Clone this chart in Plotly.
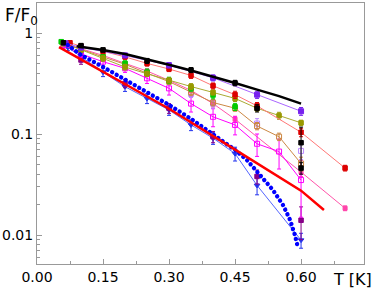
import plotly.graph_objects as go

# ---------------- data ----------------
T_blk = [0.06, 0.1, 0.15, 0.25, 0.35, 0.45]
F_blk = [0.80, 0.75, 0.68, 0.53, 0.43, 0.32]
E_blk = [0.03, 0.03, 0.03, 0.03, 0.025, 0.02]

T_blk2 = [0.5, 0.6, 0.6]
F_blk2 = [0.18, 0.082, 0.046]
E_blk2 = [0.015, 0.035, 0.006]

T_fitk = [0.09, 0.1, 0.15, 0.2, 0.25, 0.3, 0.35, 0.4, 0.45, 0.5, 0.55, 0.6]
F_fitk = [0.74, 0.73, 0.68, 0.62, 0.55, 0.485, 0.425, 0.37, 0.32, 0.275, 0.237, 0.20]

T_vio = [0.065, 0.1, 0.2, 0.3, 0.4, 0.5, 0.6]
F_vio = [0.79, 0.72, 0.60, 0.48, 0.36, 0.245, 0.168]
E_vio = [0.04, 0.04, 0.03, 0.03, 0.025, 0.02, 0.015]

T_red = [0.075, 0.1, 0.15, 0.2, 0.25, 0.3, 0.35, 0.4, 0.45, 0.5, 0.6, 0.7]
F_red = [0.80, 0.74, 0.66, 0.58, 0.50, 0.44, 0.38, 0.30, 0.245, 0.19, 0.104, 0.046]
E_red = [0.04, 0.04, 0.035, 0.03, 0.03, 0.025, 0.025, 0.02, 0.02, 0.015, 0.01, 0.003]

T_olv = [0.06, 0.1, 0.15, 0.2, 0.25, 0.3, 0.35, 0.4, 0.45, 0.5, 0.55, 0.6]
F_olv = [0.80, 0.68, 0.56, 0.46, 0.395, 0.34, 0.295, 0.258, 0.225, 0.18, 0.152, 0.129]
E_olv = [0.04, 0.04, 0.035, 0.03, 0.025, 0.02, 0.02, 0.015, 0.015, 0.012, 0.012, 0.008]

T_grn = [0.055, 0.1, 0.15, 0.2, 0.25, 0.3, 0.35, 0.4, 0.45]
F_grn = [0.82, 0.70, 0.58, 0.50, 0.41, 0.34, 0.285, 0.243, 0.186]
E_grn = [0.04, 0.04, 0.035, 0.03, 0.03, 0.025, 0.02, 0.02, 0.015]

T_brn = [0.06, 0.1, 0.15, 0.2, 0.25, 0.3, 0.35, 0.4, 0.45, 0.5, 0.55, 0.6]
F_brn = [0.78, 0.69, 0.58, 0.49, 0.40, 0.33, 0.26, 0.205, 0.18, 0.12, 0.094, 0.051]
E_brn = [0.04, 0.04, 0.035, 0.03, 0.025, 0.02, 0.02, 0.015, 0.012, 0.01, 0.008, 0.008]

T_lil = [0.35, 0.4, 0.5, 0.6]
F_lil = [0.25, 0.20, 0.127, 0.068]
E_lil = [0.02, 0.02, 0.015, 0.012]

T_mag = [0.06, 0.1, 0.15, 0.2, 0.25, 0.3, 0.35, 0.4, 0.45, 0.5, 0.55, 0.6]
F_mag = [0.76, 0.62, 0.52, 0.447, 0.356, 0.283, 0.20, 0.148, 0.123, 0.08, 0.067, 0.035]
E_mag = [0.05, 0.05, 0.05, 0.04, 0.04, 0.04, 0.035, 0.03, 0.025, 0.02, 0.022, 0.02]

T_pnk = [0.06, 0.1, 0.15, 0.2, 0.25, 0.3, 0.35, 0.4, 0.45, 0.6, 0.7]
F_pnk = [0.79, 0.70, 0.60, 0.50, 0.42, 0.34, 0.27, 0.20, 0.14, 0.042, 0.0184]
E_pnk = [0.03, 0.03, 0.03, 0.025, 0.02, 0.02, 0.015, 0.015, 0.01, 0.004, 0.001]

T_dpu = [0.06, 0.1, 0.2, 0.3, 0.4, 0.5, 0.6]
F_dpu = [0.76, 0.54, 0.317, 0.18, 0.094, 0.038, 0.014]
E_dpu = [0.05, 0.05, 0.03, 0.02, 0.012, 0.006, 0.005]

T_blu = [0.07, 0.1, 0.15, 0.2, 0.25, 0.3, 0.35, 0.4, 0.45, 0.5, 0.6]
F_blu = [0.72, 0.58, 0.41, 0.294, 0.225, 0.173, 0.123, 0.091, 0.064, 0.031, 0.0089]
E_blu = [0.05, 0.05, 0.04, 0.03, 0.025, 0.02, 0.015, 0.012, 0.01, 0.006, 0.0015]

T_dot = [0.07, 0.1, 0.15, 0.2, 0.25, 0.3, 0.35, 0.4, 0.45, 0.477, 0.507, 0.536,
         0.559, 0.575, 0.586, 0.592]
F_dot = [0.76, 0.606, 0.461, 0.347, 0.261, 0.194, 0.141, 0.10, 0.0695, 0.0553,
         0.0393, 0.0279, 0.0198, 0.0141, 0.0100, 0.0078]

T_fitr = [0.05, 0.15, 0.3, 0.45, 0.6, 0.652]
F_fitr = [0.726, 0.415, 0.178, 0.07, 0.0275, 0.0177]

x_ticks = [0.0, 0.15, 0.30, 0.45, 0.60]
x_tick_text = ["0.00", "0.15", "0.30", "0.45", "0.60"]
x_minor = [0.075, 0.225, 0.375, 0.525, 0.675]
y_ticks = [0.01, 0.1, 1]
y_tick_text = ["0.01", "0.1", "1"]
y_minor = [0.006, 0.007, 0.008, 0.009, 0.02, 0.03, 0.04, 0.05, 0.06, 0.07, 0.08, 0.09,
           0.2, 0.3, 0.4, 0.5, 0.6, 0.7, 0.8, 0.9]

# ---------------- figure ----------------
fig = go.Figure()


def series(T, F, E, color, symbol="square", size=4.5, line=None, lw=1):
    mode = "markers+lines" if line else "markers"
    fig.add_trace(go.Scatter(
        x=T, y=F, mode=mode,
        marker=dict(symbol=symbol, size=size, color=color,
                    line=dict(width=1, color=color)),
        line=dict(color=line or color, width=lw),
        error_y=dict(type="data", array=E, color=color, thickness=1, width=2),
        showlegend=False))


series(T_blu, F_blu, E_blu, "#2233ee", "triangle-down", 5, "#5566ff")
series(T_dpu, F_dpu, E_dpu, "#880088")
series(T_pnk, F_pnk, E_pnk, "#ff44aa", "square", 4, "#ff55aa")
series(T_mag, F_mag, E_mag, "#ff00ff", "square-open", 5, "#ff00ff")
series(T_lil, F_lil, E_lil, "#bb88ff", "square-open", 5)
series(T_brn, F_brn, E_brn, "#cc8844", "square-open", 5, "#cc8844")
series(T_grn, F_grn, E_grn, "#00cc00")
series(T_olv, F_olv, E_olv, "#999900", "square", 4.5, "#aaaa33")
series(T_red, F_red, E_red, "#dd0000", "square", 4.5, "#ff7777")
series(T_vio, F_vio, E_vio, "#7722ee", "square", 5, "#aa66ff")
series(T_blk2, F_blk2, E_blk2, "#000000")
series(T_blk, F_blk, E_blk, "#000000")

# dotted blue curve (dots made round below)
fig.add_trace(go.Scatter(x=T_dot, y=F_dot, mode="lines",
                         line=dict(color="#0000ff", width=4, dash="2.5px,2px"),
                         showlegend=False))
fig.add_trace(go.Scatter(x=T_fitk, y=F_fitk, mode="lines",
                         line=dict(color="#000000", width=2.5), showlegend=False))
fig.add_trace(go.Scatter(x=T_fitr, y=F_fitr, mode="lines",
                         line=dict(color="#ff0000", width=2.5), showlegend=False))

axis_col = "#999999"
fig.update_layout(
    width=374, height=291,
    margin=dict(l=37, r=10, t=3, b=27, autoexpand=False),
    paper_bgcolor="white", plot_bgcolor="white",
    font=dict(family="DejaVu Sans", size=14, color="black"),
    xaxis=dict(range=[0, 0.743], tickvals=x_ticks, ticktext=x_tick_text,
               ticks="inside", ticklen=5, tickcolor=axis_col, showline=True,
               mirror=True, linecolor=axis_col, showgrid=False, zeroline=False,
               automargin=False,
               minor=dict(tickvals=x_minor, ticks="inside", ticklen=3, tickcolor=axis_col)),
    yaxis=dict(type="log", range=[-2.287, 0.297], tickvals=y_ticks, ticktext=y_tick_text,
               ticks="inside", ticklen=5, tickcolor=axis_col, showline=True,
               mirror=True, linecolor=axis_col, showgrid=False, zeroline=False,
               automargin=False,
               minor=dict(tickvals=y_minor, ticks="inside", ticklen=3, tickcolor=axis_col)),
    annotations=[
        dict(text="F/F<sub>0</sub>", xref="paper", yref="paper", x=-0.105, y=1.0,
             xanchor="left", yanchor="top", showarrow=False,
             font=dict(family="DejaVu Sans", size=17)),
        dict(text="T [K]", xref="paper", yref="paper", x=1.03, y=-0.061,
             xanchor="right", yanchor="middle", showarrow=False,
             font=dict(family="DejaVu Sans", size=16)),
    ],
)

post = (
    "document.body.style.margin='0px';"
    "document.body.style.overflow='hidden';"
    "document.querySelectorAll('.scatterlayer path.js-line').forEach(function(p){"
    "  if(p.style.stroke==='rgb(0, 0, 255)'){"
    "    p.style.strokeLinecap='round';"
    "    p.style.strokeDasharray='0.01px,5.2px';"
    "    p.style.strokeWidth='4.4px';"
    "  }"
    "});"
)

fig.write_html("out.html", config={"displayModeBar": False}, post_script=post)
